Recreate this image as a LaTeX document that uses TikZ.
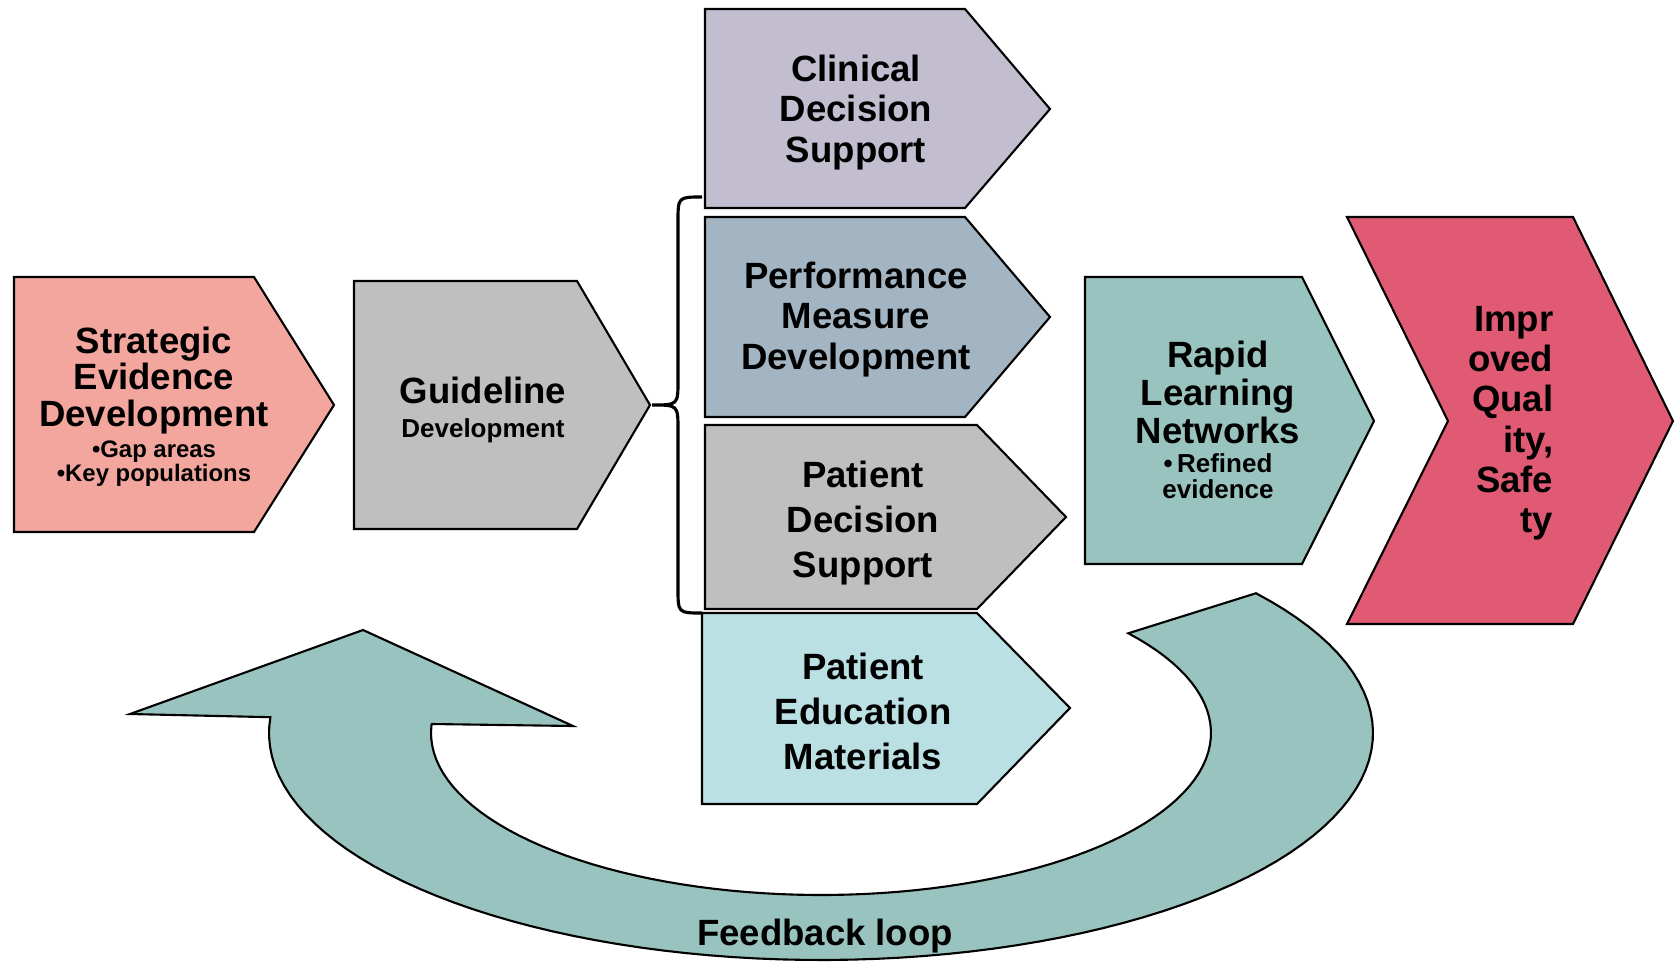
\documentclass[tikz,border=0pt]{standalone}
\usepackage{fontspec}
\setmainfont{Liberation Sans}
\definecolor{sedpink}{RGB}{242,166,158}
\definecolor{boxgray}{RGB}{191,191,191}
\definecolor{cdslilac}{RGB}{195,189,208}
\definecolor{pmdblue}{RGB}{163,181,194}
\definecolor{pemcyan}{RGB}{186,224,227}
\definecolor{rlnteal}{RGB}{153,195,190}
\definecolor{iqsred}{RGB}{224,90,115}
\tikzset{
 box/.style={draw=black,line width=0.6pt,line join=miter},
 bigtext/.style={font=\bfseries\fontsize{10.4}{#1}\selectfont,align=center,inner sep=0pt},
 smalltext/.style={font=\bfseries\fontsize{#1}{#1}\selectfont,align=center,inner sep=0pt}
}
\begin{document}
\begin{tikzpicture}[x=0.1mm,y=-0.1mm]
 \useasboundingbox (0,0) rectangle (1675,963);
 % feedback loop (elliptic ring with arrow head on the left)
 \draw[box,fill=rlnteal] plot[domain=-38:184,samples=90] ({821+552*cos(\x)},{733+227*sin(\x)})
   --(130,714)--(363,630)--(573,726)--(432,724)
   --plot[domain=183:-38,samples=90] ({821+390*cos(\x)},{733+162*sin(\x)})--cycle;
 % process boxes
 \draw[box,fill=sedpink](14,277)--(254,277)--(334,405)--(254,532)--(14,532)--cycle;
 \draw[box,fill=boxgray](354,281)--(577,281)--(650,405)--(577,529)--(354,529)--cycle;
 \draw[box,fill=cdslilac](705,9)--(965,9)--(1050,109)--(965,208)--(705,208)--cycle;
 \draw[box,fill=pmdblue](705,217)--(965,217)--(1050,317)--(965,417)--(705,417)--cycle;
 \draw[box,fill=boxgray](705,425)--(977,425)--(1066,517)--(977,609)--(705,609)--cycle;
 \draw[box,fill=pemcyan](702,613)--(977,613)--(1070,708)--(977,804)--(702,804)--cycle;
 \draw[box,fill=rlnteal](1085,277)--(1302,277)--(1374,421)--(1302,564)--(1085,564)--cycle;
 \draw[box,fill=iqsred](1347,217)--(1573,217)--(1673,421)--(1573,624)--(1347,624)--(1448,421)--cycle;
 % brace
 \draw[line width=0.9pt](702,197) .. controls (678,197) .. (678,222)--(678,380)
   .. controls (678,405) .. (652,405) .. controls (678,405) .. (678,430)
   --(678,588) .. controls (678,613) .. (702,613);
 % labels
 \node[bigtext=10.4,anchor=north] (sedtxt) at (154,326) {Strategic\\Evidence\\Development};
 \node[smalltext=6.8,anchor=north] (sedsub) at (154,440) {•Gap areas\\•Key populations};
 \node[bigtext=10.4,anchor=base] (gdltxt) at (483,403) {Guideline};
 \node[smalltext=7.4,anchor=base] (gdlsub) at (483,437) {Development};
 \node[bigtext=11.5,anchor=north] (cdstxt) at (856,54) {Clinical\\Decision\\Support};
 \node[bigtext=11.5,anchor=north] (pmdtxt) at (856,261) {Performance\\Measure\\Development};
 \node[bigtext=12.8,anchor=north] (pdstxt) at (863,460) {Patient\\Decision\\Support};
 \node[bigtext=12.8,anchor=north] (pemtxt) at (863,652) {Patient\\Education\\Materials};
 \node[bigtext=10.8,anchor=north] (rlntxt) at (1218,340) {Rapid\\Learning\\Networks};
 \node[smalltext=7.4,anchor=north] (rlnsub) at (1218,453) {•\,Refined\\evidence};
 \node[bigtext=11.4,anchor=north east,align=right] (iqstxt) at (1554,306) {Impr\\oved\\Qual\\ity,\\Safe\\ty};
 \node[bigtext=11,anchor=base] (looptxt) at (825,945) {Feedback loop};
\end{tikzpicture}
\end{document}
